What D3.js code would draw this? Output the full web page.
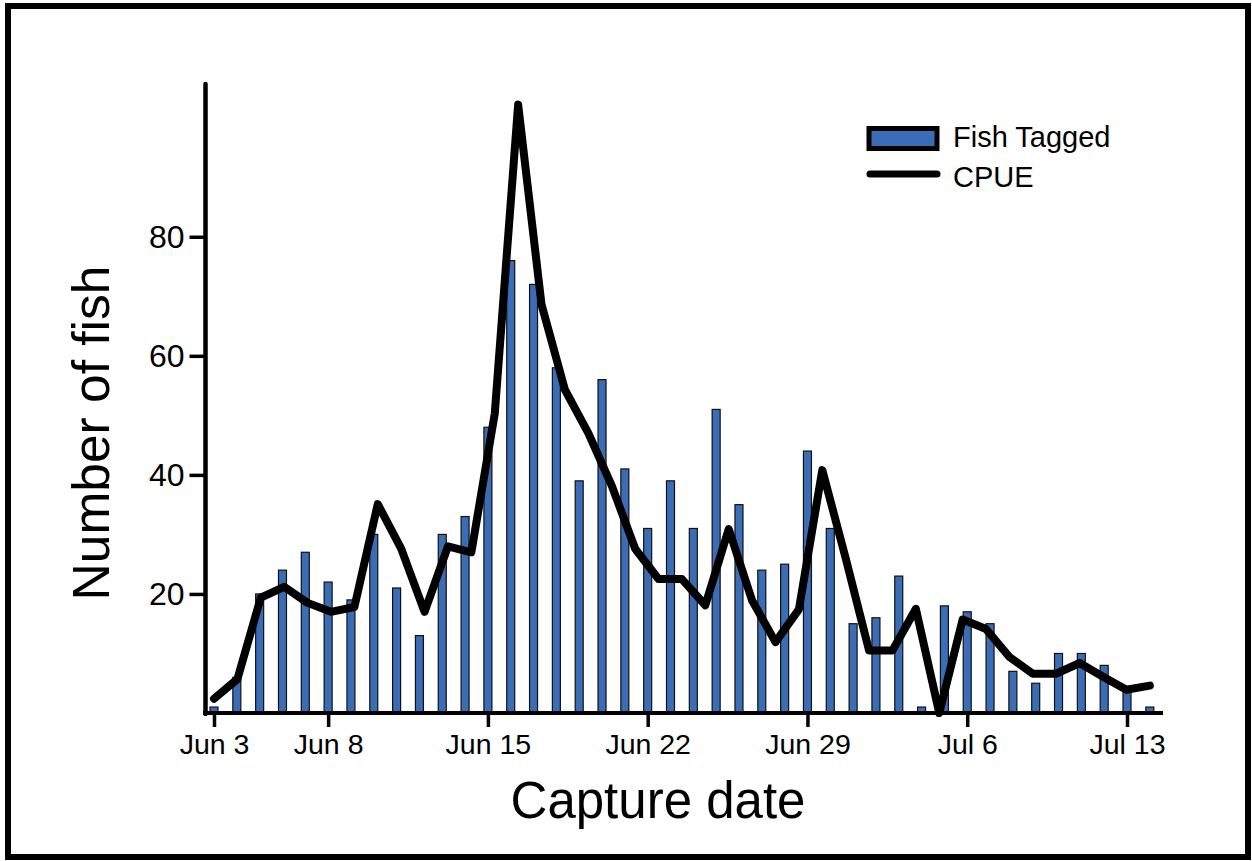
<!DOCTYPE html>
<html>
<head>
<meta charset="utf-8">
<script src="https://cdn.jsdelivr.net/npm/d3@7"></script>
<style>
  html, body { margin: 0; padding: 0; background: #fff; }
  svg { display: block; font-family: "Liberation Sans", Arial, Helvetica, sans-serif; }
</style>
</head>
<body>
<svg id="chart" width="1252" height="861"></svg>
<script>
// ---- Data ----
const startDate = "2015-06-03";
const fishTagged = [1, 6, 20, 24, 27, 22, 19, 30, 21, 13, 30, 33, 48, 76, 72, 58, 39, 56, 41, 31, 39,
                    31, 51, 35, 24, 25, 44, 31, 15, 16, 23, 1, 18, 17, 15, 7, 5, 10, 10, 8, 4, 1];
const cpue = [2.4, 5.7, 19.4, 21.2, 18.5, 17, 17.8, 35.1, 27.6, 17, 28, 27, 50.3, 102.2, 68.6, 54.3,
              47, 38.2, 27.6, 22.5, 22.5, 18.1, 30.9, 18.9, 11.9, 17.4, 40.8, 26, 10.5, 10.5, 17.5,
              0, 15.7, 14.1, 9.4, 6.6, 6.6, 8.4, 6.1, 3.9, 4.6];
const tickDates = ["2015-06-03", "2015-06-08", "2015-06-15", "2015-06-22", "2015-06-29", "2015-07-06", "2015-07-13"];
const yTicks = [20, 40, 60, 80];
const seriesNames = ["Fish Tagged", "CPUE"];

// ---- Setup ----
const parse = d3.utcParse("%Y-%m-%d");
const d0 = parse(startDate);
const dates = fishTagged.map((_, i) => d3.utcDay.offset(d0, i));
const svg = d3.select("#chart");

// outer frame
svg.append("rect").attr("x", 8).attr("y", 6).attr("width", 1240).attr("height", 851)
  .attr("fill", "none").attr("stroke", "#000").attr("stroke-width", 6);

const x = d3.scaleUtc().domain([parse("2015-06-03"), parse("2015-07-13")]).range([214, 1127]);
const y = d3.scaleLinear().domain([0, 106]).range([713, 82]);
const xl = d3.scaleLinear().domain([0, cpue.length - 1]).range([x(dates[0]), x(dates[dates.length - 1])]);

const barW = 8;
svg.append("g").selectAll("rect").data(fishTagged).join("rect")
  .attr("x", (d, i) => x(dates[i]) - barW / 2)
  .attr("y", d => y(d))
  .attr("width", barW)
  .attr("height", d => y(0) - y(d))
  .attr("fill", "#3a6db5")
  .attr("stroke", "#111")
  .attr("stroke-width", 1.2);

// CPUE line
const line = d3.line().x((d, i) => xl(i)).y(d => y(d));
svg.append("path").datum(cpue).attr("d", line)
  .attr("fill", "none").attr("stroke", "#000").attr("stroke-width", 8)
  .attr("stroke-linejoin", "round").attr("stroke-linecap", "round");

// Y axis
const yAxis = svg.append("g").attr("transform", "translate(205.5,0)")
  .call(d3.axisLeft(y).tickValues(yTicks).tickSize(16).tickPadding(5).tickFormat(d3.format("d")));
yAxis.select(".domain").remove();
yAxis.append("line").attr("x1", 0).attr("x2", 0).attr("y1", 84).attr("y2", 714)
  .attr("stroke", "#000").attr("stroke-width", 4.5).attr("stroke-linecap", "round");
yAxis.selectAll(".tick line").attr("stroke-width", 3.5);
yAxis.selectAll(".tick text").attr("font-size", 32).attr("fill", "#000")
  .style("font-family", "'Liberation Sans', Arial, sans-serif");

// X axis
const xAxis = svg.append("g").attr("transform", "translate(0,713)")
  .call(d3.axisBottom(x).tickValues(tickDates.map(parse)).tickSize(14).tickPadding(7)
    .tickFormat(d3.utcFormat("%b %-d")));
xAxis.select(".domain").remove();
xAxis.append("line").attr("x1", 203).attr("x2", 1163).attr("y1", 0).attr("y2", 0)
  .attr("stroke", "#000").attr("stroke-width", 4);
xAxis.selectAll(".tick line").attr("stroke-width", 3.5);
xAxis.selectAll(".tick text").attr("font-size", 28.5).attr("fill", "#000")
  .style("font-family", "'Liberation Sans', Arial, sans-serif");

// Axis titles
svg.append("text").attr("x", 658).attr("y", 818).attr("text-anchor", "middle")
  .attr("font-size", 51).text("Capture date");
svg.append("text").attr("transform", "translate(109,433) rotate(-90)").attr("text-anchor", "middle")
  .attr("font-size", 51.5).text("Number of fish");

// Legend
const lg = svg.append("g");
lg.append("rect").attr("x", 869).attr("y", 128.5).attr("width", 68).attr("height", 20)
  .attr("fill", "#3a6db5").attr("stroke", "#000").attr("stroke-width", 5);
lg.append("text").attr("x", 953).attr("y", 147).attr("font-size", 29).text(seriesNames[0]);
lg.append("line").attr("x1", 870).attr("x2", 937).attr("y1", 174).attr("y2", 174)
  .attr("stroke", "#000").attr("stroke-width", 7).attr("stroke-linecap", "round");
lg.append("text").attr("x", 953).attr("y", 187).attr("font-size", 29).text(seriesNames[1]);
</script>
</body>
</html>
